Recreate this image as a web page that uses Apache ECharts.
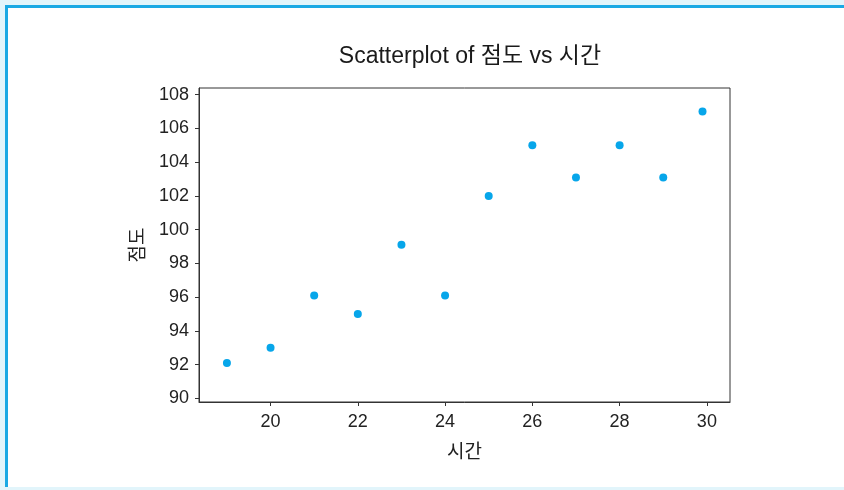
<!DOCTYPE html>
<html>
<head>
<meta charset="utf-8">
<script src="https://cdn.jsdelivr.net/npm/echarts@6/dist/echarts.min.js"></script>
<style>
  html, body { margin: 0; padding: 0; background: #e2f5fb; }
  #frame { position: absolute; left: 5px; top: 5px; width: 839px; height: 482px;
           background: #ffffff; border-left: 3px solid #1aa9e4; border-top: 3px solid #1aa9e4; box-sizing: border-box; }
  #chart { position: absolute; left: 0; top: 0; width: 844px; height: 490px; }
</style>
</head>
<body>
<div id="frame"></div>
<div id="chart"></div>
<script>
// 시간 (x) and 점도 (y)
const timeValues = [19, 20, 21, 22, 23, 24, 25, 26, 27, 28, 29, 29.9];
const viscosityValues = [92.1, 93, 96.1, 95, 99.1, 96.1, 102, 105, 103.1, 105, 103.1, 107];
const xTicks = [20, 22, 24, 26, 28, 30];
const yTicks = [90, 92, 94, 96, 98, 100, 102, 104, 106, 108];

const points = timeValues.map((t, i) => [t, viscosityValues[i]]);
const fontFam = '"Liberation Sans", "Noto Sans CJK KR", sans-serif';

const chart = echarts.init(document.getElementById('chart'), null, { renderer: 'canvas' });
chart.setOption({
  backgroundColor: 'transparent',
  animation: false,
  title: {
    text: 'Scatterplot of 점도 vs 시간',
    left: 465, top: 40, textAlign: 'center',
    textStyle: { fontFamily: fontFam, fontSize: 23, fontWeight: 'normal', color: '#1a1a1a' }
  },
  grid: {
    left: 199, top: 88, right: 114, bottom: 88,
    show: true, borderColor: '#333', borderWidth: 1, backgroundColor: 'transparent'
  },
  xAxis: {
    type: 'value', min: 18.36, max: 30.53,
    name: '시간', nameLocation: 'middle', nameGap: 41,
    nameTextStyle: { fontFamily: fontFam, fontSize: 19, color: '#222' },
    axisLine: { show: true, lineStyle: { color: '#333', width: 1 } },
    axisTick: { show: true, length: 4, lineStyle: { color: '#333' }, customValues: xTicks },
    axisLabel: { fontFamily: fontFam, fontSize: 18, color: '#222', margin: 11, customValues: xTicks },
    splitLine: { show: false }
  },
  yAxis: {
    type: 'value', min: 89.78, max: 108.4,
    name: '점도', nameLocation: 'middle', nameGap: 47, nameRotate: 90,
    nameTextStyle: { fontFamily: fontFam, fontSize: 19, color: '#222' },
    axisLine: { show: true, lineStyle: { color: '#333', width: 1 } },
    axisTick: { show: true, length: 4, lineStyle: { color: '#333' }, customValues: yTicks },
    axisLabel: { fontFamily: fontFam, fontSize: 18, color: '#222', margin: 10, customValues: yTicks },
    splitLine: { show: false }
  },
  series: [{
    type: 'scatter',
    data: points,
    symbol: 'circle',
    symbolSize: 8,
    itemStyle: { color: '#07a6ea', opacity: 1 }
  }]
});
</script>
</body>
</html>
